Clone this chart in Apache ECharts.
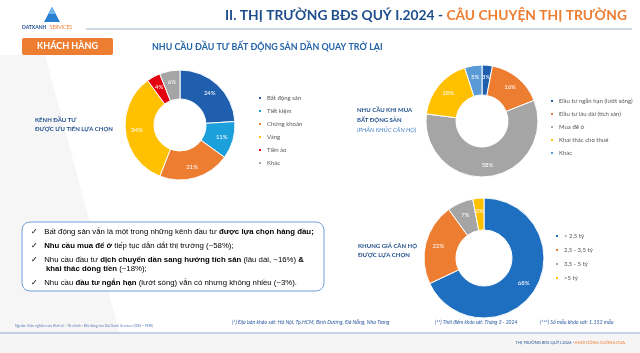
<!DOCTYPE html>
<html>
<head>
<meta charset="utf-8">
<script src="https://cdn.jsdelivr.net/npm/echarts@6/dist/echarts.min.js"></script>
<style>
  html, body { margin: 0; padding: 0; background: #fff; }
  #main { width: 640px; height: 353px; }
</style>
</head>
<body>
<div id="main"></div>
<script>
// du lieu doc tu hinh
var kenhNames = ['Bất động sản', 'Tiết kiệm', 'Chứng khoán', 'Vàng', 'Tiền ảo', 'Khác'];
var kenhValues = [24, 11, 21, 34, 4, 6];
var kenhColors = ['#1f5fae', '#1ca0dc', '#ed7d31', '#ffc000', '#e3000f', '#a5a5a5'];

// ten "Khác " co khoang trang de legend khong trung voi bieu do 1
var nhuCauNames = ['Đầu tư ngắn hạn (lướt sóng)', 'Đầu tư lâu dài (tích sản)', 'Mua để ở', 'Khai thác cho thuê', 'Khác '];
var nhuCauValues = [3, 16, 58, 18, 5];
var nhuCauColors = ['#1f5fae', '#ed7d31', '#a5a5a5', '#ffc000', '#5b9bd5'];

var giaNames = ['< 2,5 tỷ', '2,5 - 3,5 tỷ', '3,5 - 5 tỷ', '>5 tỷ'];
var giaValues = [68, 22, 7, 3];
var giaColors = ['#1e6fc0', '#ed7d31', '#a5a5a5', '#ffc000'];

var FONT = 'Lato, "Noto Sans", sans-serif';
var BLUE = '#1f4e8c';
var ORANGE = '#ed7d31';

function toData(names, values, colors) {
    return names.map(function (n, i) {
        return { name: n, value: values[i], itemStyle: { color: colors[i] } };
    });
}

function donut(center, radius, names, values, colors) {
    return {
        type: 'pie',
        center: center,
        radius: radius,
        startAngle: 90,
        clockwise: true,
        silent: true,
        itemStyle: { borderColor: '#fff', borderWidth: 1 },
        label: {
            position: 'inside',
            formatter: '{c}%',
            color: '#fff',
            fontSize: 6,
            fontFamily: FONT
        },
        labelLine: { show: false },
        data: toData(names, values, colors)
    };
}

function legendAt(left, top, names, gap) {
    return {
        orient: 'vertical',
        left: left,
        top: top,
        icon: 'rect',
        itemWidth: 4,
        itemHeight: 4,
        itemGap: gap,
        selectedMode: false,
        data: names,
        textStyle: { fontSize: 6, color: '#595959', fontFamily: FONT, lineHeight: 8 }
    };
}

function txt(x, y, text, style) {
    return {
        type: 'text', x: x, y: y, silent: true,
        style: Object.assign({ text: text, fontFamily: FONT, fill: BLUE, textVerticalAlign: 'middle' }, style)
    };
}

var bulletRich = {
    n: { fontSize: 7.8, color: '#3b5c9a', fontFamily: '"Liberation Sans", Arial, sans-serif' },
    b: { fontSize: 7.8, color: '#1f3a78', fontWeight: 'bold', fontFamily: '"Liberation Sans", Arial, sans-serif' },
    c: { fontSize: 7.8, color: '#3b5c9a', fontFamily: '"DejaVu Sans", sans-serif' }
};

function bullet(y, text) {
    return {
        type: 'text', x: 31, y: y, silent: true,
        style: { text: text, rich: bulletRich, textVerticalAlign: 'middle' }
    };
}

var myChart = echarts.init(document.getElementById('main'), null, { renderer: 'canvas' });

var option = {
    backgroundColor: '#ffffff',
    animation: false,
    legend: [
        legendAt(252, 89, kenhNames, 5),
        legendAt(544, 92, nhuCauNames, 5),
        legendAt(549, 227, giaNames, 6)
    ],
    series: [
        donut([180, 125], [26, 55], kenhNames, kenhValues, kenhColors),
        donut([482, 121], [26, 56], nhuCauNames, nhuCauValues, nhuCauColors),
        donut([484, 258], [28, 60], giaNames, giaValues, giaColors)
    ],
    graphic: [
        // nen mo
        { type: 'polygon', silent: true, z: -10, shape: { points: [[0, 55], [45, 55], [120, 335], [0, 335]] }, style: { fill: '#f6f6f7' } },
        { type: 'rect', silent: true, z: -10, shape: { x: 0, y: 334, width: 640, height: 19 }, style: { fill: '#f5f5f6' } },
        // logo
        { type: 'polygon', silent: true, shape: { points: [[52, 7], [44, 22], [60, 22]] }, style: { fill: '#2a7fd0' } },
        { type: 'polygon', silent: true, shape: { points: [[52, 7], [48, 14], [56, 14]] }, style: { fill: '#6fb4ee' } },
        {
            type: 'text', x: 22, y: 27, silent: true,
            style: {
                text: '{a|DATXANH} {b|SERVICES}', textVerticalAlign: 'middle',
                rich: {
                    a: { fontSize: 5, fontWeight: 'bold', fill: '#1f4e8c', fontFamily: FONT },
                    b: { fontSize: 5, fill: ORANGE, fontFamily: FONT }
                }
            }
        },
        { type: 'line', silent: true, shape: { x1: 86, y1: 29, x2: 632, y2: 29 }, style: { stroke: '#9fb3cc', lineWidth: 1 } },
        // tieu de
        {
            type: 'text', x: 627, y: 16, silent: true,
            style: {
                text: '{a|II. THỊ TRƯỜNG BĐS QUÝ I.2024 - }{b|CÂU CHUYỆN THỊ TRƯỜNG}',
                textAlign: 'right', textVerticalAlign: 'middle',
                rich: {
                    a: { fontSize: 13.8, fontWeight: 'bold', fill: BLUE, fontFamily: FONT },
                    b: { fontSize: 13.8, fontWeight: 'bold', fill: ORANGE, fontFamily: FONT }
                }
            }
        },
        // khach hang
        { type: 'rect', silent: true, shape: { x: 22, y: 38, width: 91, height: 17, r: 2 }, style: { fill: ORANGE } },
        txt(67.5, 46.5, 'KHÁCH HÀNG', { fill: '#fff', fontSize: 9, fontWeight: 'bold', textAlign: 'center' }),
        txt(152, 47, 'NHU CẦU ĐẦU TƯ BẤT ĐỘNG SẢN DẦN QUAY TRỞ LẠI', { fontSize: 8.9, fontWeight: 'bold', fill: '#2463a8' }),
        // nhan ben trai
        txt(35, 120, 'KÊNH ĐẦU TƯ', { fontSize: 6, fontWeight: 'bold' }),
        txt(35, 129, 'ĐƯỢC ƯU TIÊN LỰA CHỌN', { fontSize: 6, fontWeight: 'bold' }),
        txt(357, 110, 'NHU CẦU KHI MUA', { fontSize: 6, fontWeight: 'bold' }),
        txt(357, 120, 'BẤT ĐỘNG SẢN', { fontSize: 6, fontWeight: 'bold' }),
        txt(357, 130, '(PHÂN KHÚC CĂN HỘ)', { fontSize: 6, fontStyle: 'italic', fill: '#4a86c8' }),
        txt(358, 246, 'KHUNG GIÁ CĂN HỘ', { fontSize: 6, fontWeight: 'bold' }),
        txt(358, 255, 'ĐƯỢC LỰA CHỌN', { fontSize: 6, fontWeight: 'bold' }),
        // hop nhan xet
        { type: 'rect', silent: true, shape: { x: 22, y: 222, width: 302, height: 69, r: 8 }, style: { fill: '#fff', stroke: '#6f9fd6', lineWidth: 1 } },
        bullet(232, '{c|✓}  {n|Bất động sản vẫn là một trong những kênh đầu tư }{b|được lựa chọn hàng đầu;}'),
        bullet(246, '{c|✓}  {b|Nhu cầu mua để ở}{n| tiếp tục dẫn dắt thị trường (~58%);}'),
        bullet(260, '{c|✓}  {n|Nhu cầu đầu tư }{b|dịch chuyển dần sang hướng tích sản}{n| (lâu dài, ~16%) }{b|&}'),
        bullet(269, '{c|  }   {b|khai thác dòng tiền}{n| (~18%);}'),
        bullet(283, '{c|✓}  {n|Nhu cầu }{b|đầu tư ngắn hạn}{n| (lướt sóng) vẫn có nhưng không nhiều (~3%).}'),
        // chu thich
        txt(15, 326, 'Nguồn: Viện nghiên cứu Kinh tế - Tài chính - Bất động sản Dat Xanh Services (DXS – FERI)', { fontSize: 3.5, fill: '#5b7fb5' }),
        txt(232, 322, '(*) Địa bàn khảo sát: Hà Nội, Tp.HCM, Bình Dương, Đà Nẵng, Nha Trang', { fontSize: 5.3, fontStyle: 'italic', fill: '#2c5aa0' }),
        txt(435, 322, '(**) Thời điểm khảo sát: Tháng 3 - 2024', { fontSize: 5, fontStyle: 'italic', fill: '#2c5aa0' }),
        txt(540, 322, '(***) Số mẫu khảo sát: 1.152 mẫu', { fontSize: 5.3, fontStyle: 'italic', fill: '#2c5aa0' }),
        { type: 'line', silent: true, shape: { x1: 0, y1: 333, x2: 640, y2: 333 }, style: { stroke: '#8ea9c8', lineWidth: 1 } },
        {
            type: 'text', x: 625, y: 343, silent: true,
            style: {
                text: '{a|THỊ TRƯỜNG BĐS QUÝ I.2024 - }{b|KHỞI ĐỘNG ĐƯỜNG ĐUA}',
                textAlign: 'right', textVerticalAlign: 'middle',
                rich: {
                    a: { fontSize: 4, fill: BLUE, fontFamily: FONT },
                    b: { fontSize: 4, fill: ORANGE, fontFamily: FONT }
                }
            }
        }
    ]
};

myChart.setOption(option);
window.addEventListener('resize', myChart.resize);
</script>
</body>
</html>
